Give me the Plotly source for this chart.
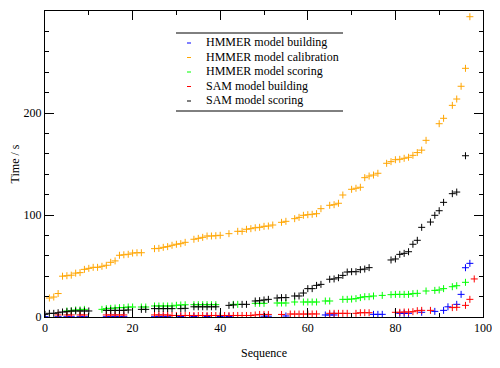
import plotly.graph_objects as go

# ---- data ----
hb_x = [0, 3, 5, 6, 8, 9, 14, 15, 16, 17, 18, 25, 26, 27, 28, 31, 34, 37, 40, 42, 50, 51, 55,
        64, 65, 66, 75, 76, 77, 81, 82, 83, 86, 89, 91, 92, 94, 95, 96, 97]
hb_y = [0.3, 0.3, 0.3, 0.3, 0.3, 0.3, 0.3, 0.3, 0.3, 0.3, 0.3, 0.3, 0.3, 0.3, 0.3, 0.5, 0.5, 0.5, 0.5, 0.5, 0.8, 0.8, 1.0,
        2.0, 2.0, 2.0, 2.6, 2.6, 2.6, 3.6, 3.6, 3.6, 4.6, 5.5, 6.5, 10.0, 12.4, 22.2, 48.3, 52.6]

hc_x = [1, 2, 3, 4, 5, 6, 7, 8, 9, 10, 11, 12, 13, 14, 15, 16, 17, 18, 19, 20, 21, 22, 25, 26, 27, 28, 29, 30,
        31, 32, 34, 35, 36, 37, 38, 39, 40, 42, 44, 45, 46, 47, 48, 49, 50, 51, 52, 54, 55, 57, 58, 59, 60,
        61, 62, 63, 65, 66, 67, 68, 70, 71, 72, 73, 74, 75, 76, 78, 79, 80, 81, 82, 83, 84, 85, 86, 87,
        90, 91, 93, 94, 95, 96, 97]
hc_y = [18.6, 19.6, 23.0, 40.0, 40.5, 41.0, 43.0, 43.5, 46.7, 47.7, 48.7, 48.7, 49.7, 50.7, 53.6, 55.0, 60.5,
        61.0, 61.5, 62.7, 63.0, 63.0, 67.0, 67.3, 68.3, 69.0, 70.3, 71.3, 71.9, 73.2, 76.2, 77.1, 78.1, 79.4,
        79.4, 79.7, 80.1, 81.7, 84.0, 84.0, 86.0, 86.6, 87.5, 87.9, 88.9, 89.2, 90.2, 92.8, 93.8, 96.4, 97.7,
        99.7, 100.3, 100.7, 101.3, 106.2, 109.5, 110.1, 111.5, 119.6, 125.2, 126.2, 127.2, 136.6, 138.2, 139.2,
        140.9, 150.7, 152.3, 154.2, 154.6, 155.6, 156.6, 158.5, 161.2, 163.6, 173.2, 189.5, 194.8, 207.5,
        213.7, 226.2, 243.8, 294.4]

hs_x = [5, 6, 7, 8, 9, 13, 14, 15, 16, 17, 18, 19, 20, 22, 23, 25, 26, 27, 28, 29, 30, 31, 32, 34, 35, 36,
        37, 38, 39, 43, 44, 48, 49, 50, 53, 54, 55, 57, 59, 60, 61, 62, 64, 65, 68, 69, 70, 71, 72, 73, 74,
        75, 77, 79, 80, 81, 82, 83, 84, 85, 87, 89, 90, 91, 93, 94, 96]
hs_y = [5.9, 5.9, 6.9, 6.9, 7.5, 7.5, 8.2, 8.5, 8.8, 9.2, 9.2, 9.8, 9.8, 9.8, 9.8, 10.8, 10.8, 10.8, 10.8,
        10.8, 11.5, 11.8, 12.0, 12.1, 12.1, 12.1, 12.1, 12.1, 12.1, 12.4, 12.4, 13.4, 13.4, 13.4, 13.7, 13.7,
        13.7, 14.7, 14.7, 14.7, 14.7, 14.7, 15.7, 15.7, 17.3, 17.3, 17.6, 18.0, 19.0, 19.9, 19.9, 20.6, 21.2,
        21.9, 22.2, 22.2, 22.2, 22.2, 22.9, 23.2, 25.5, 26.1, 26.5, 27.8, 29.7, 30.7, 34.0]

sb_x = [3, 5, 6, 8, 9, 14, 15, 16, 17, 18, 25, 26, 27, 28, 29, 30, 31, 32, 33, 34, 35, 36, 37, 38, 39, 40,
        41, 42, 43, 44, 45, 46, 47, 48, 49, 50, 51, 54, 56, 57, 58, 59, 60, 61, 62, 65, 66, 67, 68, 69, 71,
        72, 73, 74, 80, 81, 82, 83, 84, 85, 86, 88, 93, 94, 96, 97, 98]
sb_y = [2.0, 2.0, 2.0, 2.0, 2.0, 2.0, 2.0, 2.0, 2.0, 2.0, 2.0, 2.0, 2.0, 2.0, 1.5, 1.5, 1.5, 1.5, 1.5, 1.5,
        1.5, 1.5, 1.5, 1.5, 1.5, 1.5, 1.5, 1.5, 1.5, 1.5, 1.5, 1.5, 1.5, 2.0, 2.5, 2.5, 2.5, 2.5, 2.9, 2.9,
        2.9, 2.9, 2.9, 3.0, 3.0, 3.6, 3.6, 3.6, 3.6, 3.6, 3.6, 4.2, 4.2, 4.2, 4.6, 4.6, 4.9, 4.9, 5.2, 6.2,
        6.5, 6.5, 9.2, 9.5, 11.4, 17.3, 37.3]

ss_x = [0, 1, 2, 3, 4, 5, 6, 7, 8, 9, 10, 14, 15, 16, 17, 18, 19, 22, 23, 25, 26, 27, 28, 29, 31, 32, 34,
        35, 36, 37, 38, 39, 42, 43, 45, 46, 48, 49, 50, 51, 53, 54, 55, 57, 58, 59, 60, 61, 62, 63, 65, 66,
        67, 68, 69, 70, 71, 72, 73, 74, 79, 80, 81, 82, 83, 84, 85, 86, 88, 89, 90, 91, 93, 94, 96]
ss_y = [2.6, 3.6, 3.6, 4.2, 4.9, 5.2, 5.9, 5.9, 5.9, 5.9, 5.9, 6.5, 6.5, 6.5, 6.5, 6.5, 6.9, 7.5, 7.5, 8.2,
        8.2, 8.2, 8.2, 8.2, 8.2, 8.5, 10.0, 10.0, 10.0, 10.0, 10.0, 10.0, 11.4, 11.8, 12.4, 12.4, 15.7, 16.0,
        16.7, 17.3, 18.6, 19.0, 19.0, 20.6, 20.6, 23.5, 27.8, 27.8, 31.0, 32.0, 37.0, 37.3, 38.5, 40.8, 44.1,
        44.4, 44.4, 46.4, 47.0, 48.4, 55.9, 56.9, 61.4, 62.4, 64.0, 71.3, 75.2, 87.9, 93.1, 99.7, 104.2,
        112.4, 120.9, 122.5, 158.1]

series_names = ["HMMER model building", "HMMER model calibration", "HMMER model scoring",
                "SAM model building", "SAM model scoring"]
series_x = [hb_x, hc_x, hs_x, sb_x, ss_x]
series_y = [hb_y, hc_y, hs_y, sb_y, ss_y]
colors = ["#0000ff", "#ffa500", "#00ff00", "#ff0000", "#000000"]

x_ticks = [0, 20, 40, 60, 80, 100]
y_ticks = [0, 100, 200, 300]

FONT = "Liberation Serif, Times New Roman, serif"

# the page body has an 8px margin; compensate so the plot lands where the reference's does
OFF = 8
W, H = 500 - OFF, 368 - OFF
PL, PR, PT, PB = 45, 483, 11, 317   # plot-area edges in window pixels
L, T = PL - OFF, PT - OFF
R = W - (PR - OFF)
B = H - (PB - OFF)
pw, ph = PR - PL, PB - PT

def px_to_paper_x(px):
    return (px - PL) / pw

def px_to_paper_y(py):
    return (PB - py) / ph

fig = go.Figure()
for name, xs, ys, c in zip(series_names, series_x, series_y, colors):
    fig.add_trace(go.Scatter(
        x=xs, y=ys, mode="markers", name=name, showlegend=False,
        marker=dict(symbol="cross-thin", size=5, color=c, line=dict(color=c, width=1)),
    ))

# legend drawn as annotations + sample dashes (rows tightly spaced as in reference)
row_y = [42.5, 57, 71.5, 86, 100.5]
for name, c, ry in zip(series_names, colors, row_y):
    fig.add_annotation(x=px_to_paper_x(204), y=px_to_paper_y(ry), xref="paper", yref="paper",
                       text=name, showarrow=False, xanchor="left", yanchor="middle",
                       font=dict(family=FONT, size=12, color="black"))
    fig.add_shape(type="line", xref="paper", yref="paper",
                  x0=px_to_paper_x(187), x1=px_to_paper_x(191),
                  y0=px_to_paper_y(ry + 0.5), y1=px_to_paper_y(ry + 0.5),
                  line=dict(color=c, width=1))
for ly in (33, 111):
    fig.add_shape(type="line", xref="paper", yref="paper",
                  x0=px_to_paper_x(176), x1=px_to_paper_x(343),
                  y0=px_to_paper_y(ly), y1=px_to_paper_y(ly),
                  line=dict(color="black", width=1))

fig.update_layout(
    template="none",
    width=W, height=H,
    margin=dict(l=L, r=R, t=T, b=B, pad=0, autoexpand=False),
    paper_bgcolor="white", plot_bgcolor="white",
    font=dict(family=FONT, size=12, color="black"),
    showlegend=False,
)
fig.update_xaxes(
    range=[0, 100], tickvals=x_ticks, ticks="inside", ticklen=9, tickwidth=1, tickcolor="black",
    minor=dict(dtick=10, ticks="inside", ticklen=4, tickwidth=1, tickcolor="black", showgrid=False),
    showline=True, linecolor="black", linewidth=1, mirror="allticks", showgrid=False, zeroline=False,
    automargin=False, tickfont=dict(family=FONT, size=12, color="black"),
    title=dict(text="Sequence", font=dict(family=FONT, size=12, color="black"), standoff=14),
)
fig.update_yaxes(
    range=[0, 300], tickvals=y_ticks, ticks="inside", ticklen=9, tickwidth=1, tickcolor="black",
    minor=dict(dtick=20, ticks="inside", ticklen=4, tickwidth=1, tickcolor="black", showgrid=False),
    showline=True, linecolor="black", linewidth=1, mirror="allticks", showgrid=False, zeroline=False,
    automargin=False, tickfont=dict(family=FONT, size=12, color="black"),
    title=dict(text="Time / s", font=dict(family=FONT, size=12, color="black"), standoff=8),
)

fig.write_html("out.html")
